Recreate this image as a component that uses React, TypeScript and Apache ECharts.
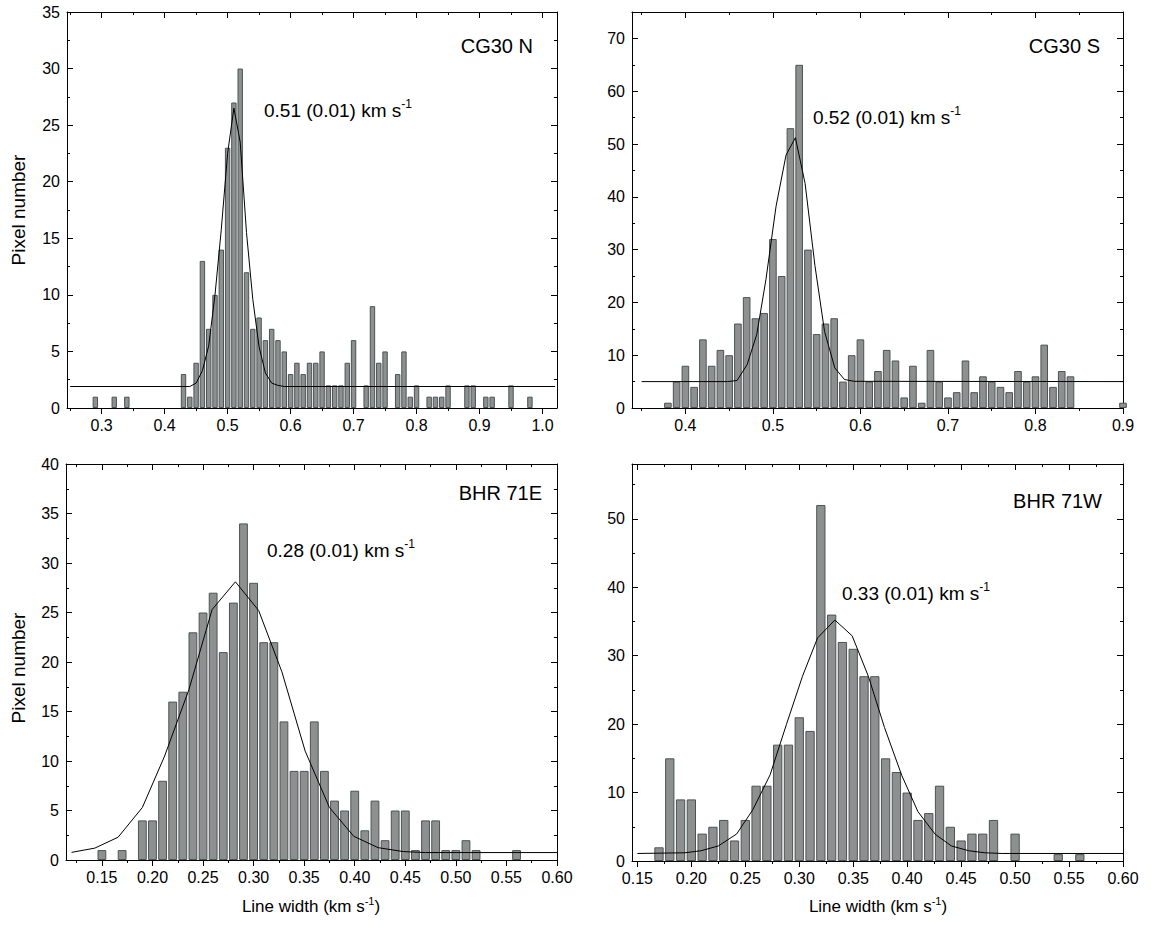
import React, { useEffect, useRef } from 'react';
import * as echarts from 'echarts';

const FONT = '"Liberation Sans", Arial, Helvetica, sans-serif';

// ---------- CG30 N ----------
const cg30nBins = [0.29, 0.32, 0.34, 0.43, 0.44, 0.45, 0.46, 0.47, 0.48, 0.49, 0.50, 0.51, 0.52, 0.53, 0.54, 0.55, 0.56, 0.57, 0.58, 0.59, 0.60, 0.61, 0.62, 0.63, 0.64, 0.65, 0.66, 0.67, 0.68, 0.69, 0.70, 0.72, 0.73, 0.74, 0.75, 0.77, 0.78, 0.79, 0.80, 0.82, 0.83, 0.84, 0.85, 0.88, 0.89, 0.91, 0.92, 0.95, 0.98];
const cg30nCounts = [1, 1, 1, 3, 1, 4, 13, 7, 10, 14, 23, 27, 30, 12, 7, 8, 6, 7, 6, 5, 3, 4, 3, 4, 4, 5, 2, 2, 2, 4, 6, 2, 9, 4, 5, 3, 5, 1, 2, 1, 1, 1, 2, 2, 2, 1, 1, 2, 1];
const cg30nFitX = [0.25, 0.44, 0.45, 0.46, 0.47, 0.48, 0.49, 0.50, 0.51, 0.52, 0.53, 0.54, 0.55, 0.56, 0.57, 0.58, 0.59, 1.02];
const cg30nFitY = [1.9, 1.9, 2.2, 3.3, 5.5, 10, 15.8, 22.5, 26.5, 23.5, 15.5, 9.6, 5.4, 3.1, 2.2, 2.0, 1.9, 1.9];

// ---------- CG30 S ----------
const cg30sBins = [0.38, 0.39, 0.40, 0.41, 0.42, 0.43, 0.44, 0.45, 0.46, 0.47, 0.48, 0.49, 0.50, 0.51, 0.52, 0.53, 0.54, 0.55, 0.56, 0.57, 0.58, 0.59, 0.60, 0.61, 0.62, 0.63, 0.64, 0.65, 0.66, 0.67, 0.68, 0.69, 0.70, 0.71, 0.72, 0.73, 0.74, 0.75, 0.76, 0.77, 0.78, 0.79, 0.80, 0.81, 0.82, 0.83, 0.84, 0.90];
const cg30sCounts = [1, 5, 8, 4, 13, 8, 11, 10, 16, 21, 17, 18, 32, 25, 53, 65, 30, 14, 16, 17, 5, 10, 13, 5, 7, 11, 9, 2, 8, 1, 11, 5, 2, 3, 9, 3, 6, 5, 4, 3, 7, 5, 6, 12, 4, 7, 6, 1];
const cg30sFitX = [0.35, 0.448, 0.459, 0.4705, 0.4815, 0.492, 0.5036, 0.515, 0.5257, 0.5368, 0.548, 0.559, 0.5707, 0.5817, 0.593, 0.9];
const cg30sFitY = [5, 5, 5.2, 8.2, 13.9, 24.3, 38.2, 47.9, 51.2, 42.5, 27, 14.5, 7.6, 5.4, 5.05, 5];

// ---------- BHR 71E ----------
const bhr71eBins = [0.15, 0.17, 0.19, 0.20, 0.21, 0.22, 0.23, 0.24, 0.25, 0.26, 0.27, 0.28, 0.29, 0.30, 0.31, 0.32, 0.33, 0.34, 0.35, 0.36, 0.37, 0.38, 0.39, 0.40, 0.41, 0.42, 0.43, 0.44, 0.45, 0.46, 0.47, 0.48, 0.49, 0.50, 0.51, 0.52, 0.56];
const bhr71eCounts = [1, 1, 4, 4, 8, 16, 17, 23, 25, 27, 21, 26, 34, 28, 22, 22, 14, 9, 9, 14, 9, 6, 5, 7, 3, 6, 2, 5, 5, 1, 4, 4, 1, 1, 2, 1, 1];
const bhr71eFitX = [0.12, 0.143, 0.166, 0.19, 0.212, 0.236, 0.259, 0.282, 0.305, 0.328, 0.351, 0.375, 0.399, 0.423, 0.448, 0.47, 0.60];
const bhr71eFitY = [0.77, 1.2, 2.3, 5.3, 10.5, 17.2, 25.3, 28.1, 25.2, 19, 11, 5.3, 2.4, 1.25, 0.85, 0.75, 0.75];

// ---------- BHR 71W ----------
const bhr71wBins = [0.17, 0.18, 0.19, 0.20, 0.21, 0.22, 0.23, 0.24, 0.25, 0.26, 0.27, 0.28, 0.29, 0.30, 0.31, 0.32, 0.33, 0.34, 0.35, 0.36, 0.37, 0.38, 0.39, 0.40, 0.41, 0.42, 0.43, 0.44, 0.45, 0.46, 0.47, 0.48, 0.50, 0.54, 0.56];
const bhr71wCounts = [2, 15, 9, 9, 4, 5, 6, 3, 6, 11, 11, 17, 17, 21, 19, 52, 36, 32, 31, 27, 27, 15, 13, 10, 6, 7, 11, 5, 3, 4, 4, 6, 4, 1, 1];
const bhr71wFitX = [0.15, 0.194, 0.209, 0.225, 0.242, 0.257, 0.273, 0.288, 0.303, 0.317, 0.333, 0.349, 0.364, 0.379, 0.395, 0.41, 0.426, 0.441, 0.457, 0.472, 0.488, 0.60];
const bhr71wFitY = [1.1, 1.2, 1.5, 2.2, 3.95, 7.5, 12.6, 19.9, 27, 32.6, 35.2, 32.9, 27, 19.5, 12.5, 7.2, 3.9, 2.2, 1.5, 1.2, 1.1, 1.1];

// ---------- tick values ----------
const xTicksCG30N = [0.3, 0.4, 0.5, 0.6, 0.7, 0.8, 0.9, 1.0];
const xMinorCG30N = [0.25, 0.35, 0.45, 0.55, 0.65, 0.75, 0.85, 0.95];
const xTicksCG30S = [0.4, 0.5, 0.6, 0.7, 0.8, 0.9];
const xMinorCG30S = [0.35, 0.45, 0.55, 0.65, 0.75, 0.85];
const xTicksBHR = [0.15, 0.20, 0.25, 0.30, 0.35, 0.40, 0.45, 0.50, 0.55, 0.60];
const xMinorBHRE = [0.125, 0.175, 0.225, 0.275, 0.325, 0.375, 0.425, 0.475, 0.525, 0.575];
const xMinorBHRW = [0.175, 0.225, 0.275, 0.325, 0.375, 0.425, 0.475, 0.525, 0.575];
const yTicksCG30N = [0, 5, 10, 15, 20, 25, 30, 35];
const yMinorCG30N = [2.5, 7.5, 12.5, 17.5, 22.5, 27.5, 32.5];
const yTicksCG30S = [0, 10, 20, 30, 40, 50, 60, 70];
const yMinorCG30S = [5, 15, 25, 35, 45, 55, 65];
const yTicksBHRE = [0, 5, 10, 15, 20, 25, 30, 35, 40];
const yMinorBHRE = [2.5, 7.5, 12.5, 17.5, 22.5, 27.5, 32.5, 37.5];
const yTicksBHRW = [0, 10, 20, 30, 40, 50];
const yMinorBHRW = [5, 15, 25, 35, 45, 55];

const panels = [
  {
    name: 'CG30 N', value: '0.51 (0.01) km s',
    bins: cg30nBins, counts: cg30nCounts, fitX: cg30nFitX, fitY: cg30nFitY,
    xMin: 0.245, xMax: 1.023, yMax: 35, xDec: 1,
    xTicks: xTicksCG30N, xMinor: xMinorCG30N, yTicks: yTicksCG30N, yMinor: yMinorCG30N,
    grid: { left: 67, top: 12, width: 490, height: 396 }, barWidth: 5.4,
    namePos: [533, 46], valuePos: [264, 110],
  },
  {
    name: 'CG30 S', value: '0.52 (0.01) km s',
    bins: cg30sBins, counts: cg30sCounts, fitX: cg30sFitX, fitY: cg30sFitY,
    xMin: 0.339, xMax: 0.9, yMax: 75, xDec: 1,
    xTicks: xTicksCG30S, xMinor: xMinorCG30S, yTicks: yTicksCG30S, yMinor: yMinorCG30S,
    grid: { left: 632, top: 12, width: 491, height: 396 }, barWidth: 7.6,
    namePos: [1100, 46], valuePos: [813, 117],
  },
  {
    name: 'BHR 71E', value: '0.28 (0.01) km s',
    bins: bhr71eBins, counts: bhr71eCounts, fitX: bhr71eFitX, fitY: bhr71eFitY,
    xMin: 0.1145, xMax: 0.6, yMax: 40, xDec: 2,
    xTicks: xTicksBHR, xMinor: xMinorBHRE, yTicks: yTicksBHRE, yMinor: yMinorBHRE,
    grid: { left: 66, top: 464, width: 491, height: 396 }, barWidth: 8.8,
    namePos: [542, 493], valuePos: [267, 550],
  },
  {
    name: 'BHR 71W', value: '0.33 (0.01) km s',
    bins: bhr71wBins, counts: bhr71wCounts, fitX: bhr71wFitX, fitY: bhr71wFitY,
    xMin: 0.145, xMax: 0.6, yMax: 58, xDec: 2,
    xTicks: xTicksBHR, xMinor: xMinorBHRW, yTicks: yTicksBHRW, yMinor: yMinorBHRW,
    grid: { left: 632, top: 464, width: 491, height: 397 }, barWidth: 9.3,
    namePos: [1102, 501], valuePos: [842, 593],
  },
];

const BAR_FILL = '#8e9090';
const BAR_EDGE = '#4a5454';

function buildOption() {
  const grids: any[] = [];
  const xAxes: any[] = [];
  const yAxes: any[] = [];
  const series: any[] = [];
  const graphics: any[] = [];

  panels.forEach((p, gi) => {
    grids.push({ ...p.grid, containLabel: false, outerBoundsMode: 'none', show: false });

    const xAx = (position: string, ticks: number[], len: number, inside: boolean, line: boolean, label: boolean) => ({
      type: 'value', gridIndex: gi, position, min: p.xMin, max: p.xMax,
      axisLine: { show: line, onZero: false, lineStyle: { color: '#000', width: 1 } },
      axisTick: { show: true, inside, length: len, customValues: ticks, lineStyle: { color: '#000', width: 1 } },
      axisLabel: {
        show: label, customValues: ticks, margin: 9,
        formatter: (v: number) => v.toFixed(p.xDec),
        fontSize: 16, color: '#000', fontFamily: FONT,
      },
      splitLine: { show: false },
    });
    const yAx = (position: string, ticks: number[], len: number, line: boolean, label: boolean) => ({
      type: 'value', gridIndex: gi, position, min: 0, max: p.yMax,
      axisLine: { show: line, onZero: false, lineStyle: { color: '#000', width: 1 } },
      axisTick: { show: true, inside: true, length: len, customValues: ticks, lineStyle: { color: '#000', width: 1 } },
      axisLabel: {
        show: label, customValues: ticks, margin: 7,
        formatter: (v: number) => String(v),
        fontSize: 16, color: '#000', fontFamily: FONT,
      },
      splitLine: { show: false },
    });

    const xBase = xAxes.length;
    xAxes.push(xAx('bottom', p.xTicks, 6, false, true, true));
    xAxes.push(xAx('bottom', p.xMinor, 3, false, false, false));
    xAxes.push(xAx('top', p.xTicks, 6, true, true, false));
    xAxes.push(xAx('top', p.xMinor, 3, true, false, false));
    const yBase = yAxes.length;
    yAxes.push(yAx('left', p.yTicks, 6, true, true));
    yAxes.push(yAx('left', p.yMinor, 3, false, false));
    yAxes.push(yAx('right', p.yTicks, 6, true, false));
    yAxes.push(yAx('right', p.yMinor, 3, false, false));

    series.push({
      type: 'bar', xAxisIndex: xBase, yAxisIndex: yBase,
      data: p.bins.map((b, i) => [b, p.counts[i]]),
      barWidth: p.barWidth,
      itemStyle: { color: BAR_FILL, borderColor: BAR_EDGE, borderWidth: 1 },
      z: 2,
    });
    series.push({
      type: 'line', xAxisIndex: xBase, yAxisIndex: yBase,
      data: p.fitX.map((x, i) => [x, p.fitY[i]]),
      symbol: 'none', showSymbol: false,
      lineStyle: { color: '#000', width: 1 },
      z: 3,
    });

    graphics.push({
      type: 'text', x: p.namePos[0], y: p.namePos[1],
      style: { text: p.name, fill: '#000', font: `20px ${FONT}`, align: 'right', verticalAlign: 'middle' },
    });
    graphics.push({
      type: 'text', x: p.valuePos[0], y: p.valuePos[1],
      style: {
        text: `{a|${p.value}}{b|-1}`, align: 'left', verticalAlign: 'middle',
        rich: {
          a: { fontSize: 19, fontFamily: FONT, fill: '#000', lineHeight: 24, verticalAlign: 'middle' },
          b: { fontSize: 12, fontFamily: FONT, fill: '#000', lineHeight: 24, verticalAlign: 'top' },
        },
      },
    });
  });

  // axis titles
  [210, 668].forEach((cy) => {
    graphics.push({
      type: 'text', x: 18, y: cy, rotation: Math.PI / 2,
      style: { text: 'Pixel number', fill: '#000', font: `19px ${FONT}`, align: 'center', verticalAlign: 'middle' },
    });
  });
  [311, 878].forEach((cx) => {
    graphics.push({
      type: 'text', x: cx, y: 906,
      style: {
        text: '{a|Line width (km s}{b|-1}{a|)}', align: 'center', verticalAlign: 'middle',
        rich: {
          a: { fontSize: 17, fontFamily: FONT, fill: '#000', lineHeight: 22, verticalAlign: 'middle' },
          b: { fontSize: 11, fontFamily: FONT, fill: '#000', lineHeight: 22, verticalAlign: 'top' },
        },
      },
    });
  });

  return {
    animation: false,
    backgroundColor: '#fff',
    grid: grids,
    xAxis: xAxes,
    yAxis: yAxes,
    series,
    graphic: graphics,
  };
}

export default function App() {
  const ref = useRef<HTMLDivElement>(null);
  useEffect(() => {
    if (!ref.current) return;
    const chart = echarts.init(ref.current, null, { renderer: 'svg' });
    chart.setOption(buildOption() as any);
    return () => chart.dispose();
  }, []);
  return (
    <div
      ref={ref}
      style={{ position: 'fixed', left: 0, top: 0, width: 1151, height: 930, background: '#fff' }}
    />
  );
}
